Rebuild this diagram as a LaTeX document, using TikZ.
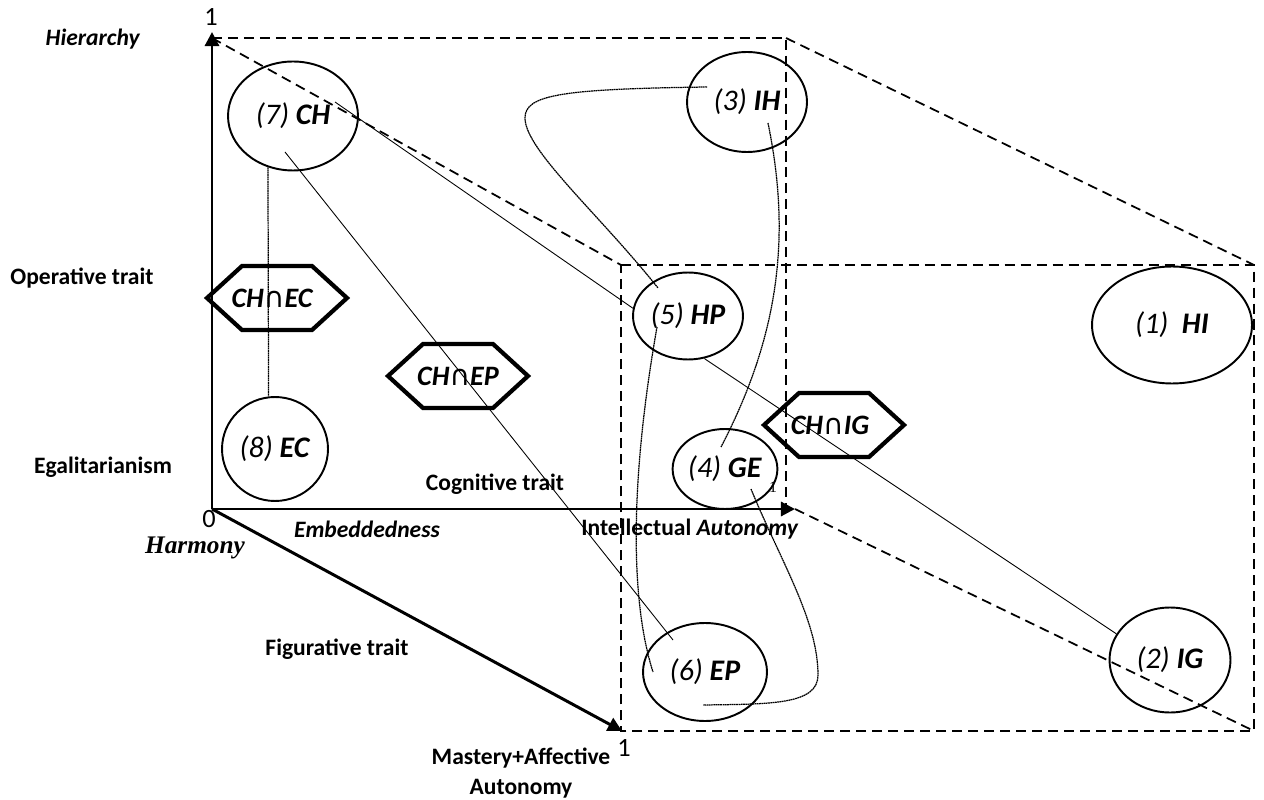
\documentclass[tikz,border=0pt]{standalone}
\usepackage{fontspec}
\setmainfont{Carlito}
\newfontfamily\serifbf{Liberation Serif}
\newfontfamily\symfont{DejaVu Sans}
\usepackage{tikz}
\usetikzlibrary{calc,arrows.meta,shapes.geometric}
\def\capsym{{\mdseries\upshape\symfont ∩}}
\def\traitfont{\fontsize{13.4}{17}\selectfont\bfseries}
\def\val#1#2{\textit{(#1)} \textbf{\textit{#2}}}

\begin{document}
\begin{tikzpicture}[x=0.02cm, y=-0.02cm,
		axis/.style={line width=1.7pt, -{Triangle[length=8pt,width=8pt]}},
		edge/.style={line width=1pt, dash pattern=on 5.7pt off 3.4pt},
		value/.style={ellipse, draw, line width=1.1pt, inner sep=0pt, font=\fontsize{17}{20}\selectfont},
		meet/.style={inner sep=0pt, font=\fontsize{16}{19}\selectfont\bfseries\itshape},
		meetline/.style={line width=2.4pt, line join=miter},
		trait/.style={font=\traitfont},
		link/.style={line width=0.5pt},
		trail/.style={line width=0.7pt, dash pattern=on 1pt off 0.3pt}]
		%%%%% START %%%%%
		
		\useasboundingbox (0,0) rectangle (1264,800);
		
		% axes
		\coordinate (O) at (212,509);
		\coordinate (Y) at (212,32);
		\coordinate (X) at (795,509);
		\coordinate (Z) at (622,731);
		\draw[axis] (O) -- (Y);
		\draw[axis] (O) -- (X);
		\draw[axis] (O) -- (Z);
		
		% dashed box
		\coordinate (B1) at (212,38);
		\coordinate (B2) at (786,38);
		\coordinate (B3) at (786,505);
		\coordinate (F1) at (621,265);
		\coordinate (F2) at (1254,265);
		\coordinate (F3) at (1254,731);
		\coordinate (F4) at (621,731);
		\draw[edge] (B1) -- (B2) -- (B3);
		\draw[edge] (B1) -- (F1);
		\draw[edge] (B2) -- (F2);
		\draw[edge] (X) -- (F3);
		\draw[edge] (F1) -- (F2) -- (F3) -- (F4) -- cycle;
		
		% scale marks
		\node[font=\fontsize{15}{18}\selectfont] (oneY) at (211,17) {1};
		\node[font=\fontsize{15}{18}\selectfont] (zero) at (209,519) {0};
		\node[font=\fontsize{15}{18}\selectfont] (oneZ) at (624,748) {1};
		\node[font=\serifbf\fontsize{9}{10}\selectfont] (oneX) at (773,487) {1};
		
		% trait labels
		\node[trait] (hier) at (93,39) {\textit{Hierarchy}};
		\node[trait] (oper) at (82,278) {Operative trait};
		\node[trait] (egal) at (103,467) {Egalitarianism};
		\node[trait] (cogn) at (495,484) {Cognitive trait};
		\node[trait] (embed) at (367,529) {\textit{Embeddedness}};
		\node[trait] (intel) at (690,529) {Intellectual \textit{Autonomy}};
		\node[font=\serifbf\fontsize{14.4}{17}\selectfont\bfseries\itshape] (harm) at (195,548) {Harmony};
		\node[trait] (fig) at (337,649) {Figurative trait};
		\node[trait, align=center] (mast) at (521,773) {Mastery+Affective\\Autonomy};
		
		% values
		\node[value, minimum width=2.6cm, minimum height=2.18cm] (CH) at (293,116) {\val{7}{CH}};
		\node[value, minimum width=2.4cm, minimum height=2cm] (IH) at (747,102) {\val{3}{IH}};
		\node[value, minimum width=2.2cm, minimum height=1.74cm] (HP) at (688,316) {\val{5}{HP}};
		\node[value, minimum width=3.2cm, minimum height=2.34cm] (HI) at (1172,325) {\textit{(1)}\ \ \textbf{\textit{HI}}};
		\node[value, minimum width=2.12cm, minimum height=2.08cm] (EC) at (275,449) {\val{8}{EC}};
		\node[value, minimum width=2.08cm, minimum height=1.6cm] (GE) at (725,469) {\val{4}{GE}};
		\node[value, minimum width=2.48cm, minimum height=1.96cm] (EP) at (705,672) {\val{6}{EP}};
		\node[value, minimum width=2.42cm, minimum height=2.1cm] (IG) at (1170,660) {\val{2}{IG}};
		
		% intersections
		\node[meet] (CHEC) at (272,298) {CH\capsym EC};
		\node[meet] (CHEP) at (458,376) {CH\capsym EP};
		\node[meet] (CHIG) at (830,425) {CH\capsym IG};
		\foreach \m/\dx in {CHEC/5,CHEP/0,CHIG/4}
			\draw[meetline] ($(\m)+(\dx-70,0)$) -- ++(35,-32) -- ++(70,0) -- ++(35,32)
				-- ++(-35,32) -- ++(-70,0) -- cycle;
		
		% links
		\draw[trail] (CH.244) -- (EC.97);
		\draw[link] ($(CH)+(-8,36)$) -- ($(EP)+(-32,-32)$);
		\draw[link] ($(CH)+(42,-14)$) -- (HP.172);
		\draw[link] (HP.291) -- (IG.154);
		\draw[trail] ($(IH)+(-40,-15)$) .. controls (560,89) and (525,95) .. (525,118)
			.. controls (525,150) and (600,215) .. ($(HP)+(-30,-28)$);
		\draw[trail] ($(IH)+(21,21)$) .. controls (790,230) and (782,330) .. ($(GE)+(-4,-22)$);
		\draw[trail] ($(GE)+(26,20)$) .. controls (780,560) and (818,620) .. (818,675)
			.. controls (818,705) and (770,704) .. ($(EP)+(-2,33)$);
		\draw[trail] ($(HP)+(-31,11)$) .. controls (630,480) and (630,600) .. ($(EP)+(-52,0)$);
		
		%%%%% END %%%%%
	\end{tikzpicture}
\end{document}
